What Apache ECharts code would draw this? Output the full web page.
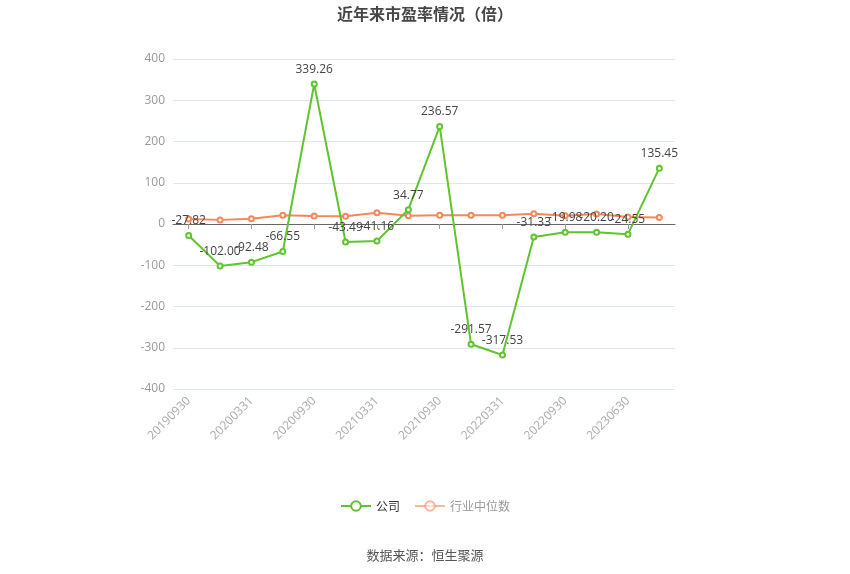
<!DOCTYPE html>
<html><head><meta charset="utf-8">
<script src="https://cdn.jsdelivr.net/npm/echarts@6/dist/echarts.min.js"></script>
<style>html,body{margin:0;padding:0;background:#fff}#c{width:850px;height:574px}</style>
</head><body><div id="c"></div>
<script>
var categories = ['20190930','20191231','20200331','20200630','20200930','20201231','20210331','20210630','20210930','20211231','20220331','20220630','20220930','20221231','20230630','20230930'];
var companyPE = [-27.82,-102.00,-92.48,-66.55,339.26,-43.49,-41.16,34.77,236.57,-291.57,-317.53,-31.33,-19.98,-20.20,-24.55,135.45];
var industryPE = [12,10,13,21,19.5,18.5,27,20,21,21,21,25,20,24,17,16];
var yTicks = {min:-400,max:400,interval:100};

var chart = echarts.init(document.getElementById('c'));
chart.setOption({
  animation:false,
  title:{text:'近年来市盈率情况（倍）',left:'center',top:1,textStyle:{fontSize:16,fontWeight:'bold',color:'#464646',fontFamily:'Noto Sans CJK SC'}},
  legend:{bottom:57,left:'center',itemWidth:30,itemHeight:12,itemGap:14,
    data:[{name:'公司',textStyle:{color:'#333'}},{name:'行业中位数',textStyle:{color:'#999'},itemStyle:{opacity:0.6},lineStyle:{opacity:0.6}}],
    textStyle:{fontSize:12,fontFamily:'Noto Sans CJK SC'}},
  graphic:[{type:'text',left:'center',top:549,style:{text:'数据来源：恒生聚源',fontSize:13,fill:'#555',fontFamily:'Noto Sans CJK SC'}}],
  grid:{left:173,right:175,top:59,bottom:185},
  xAxis:{type:'category',data:categories,boundaryGap:true,
    axisLine:{onZero:true,lineStyle:{color:'#666'}},
    axisTick:{show:true,interval:1,alignWithLabel:true,lineStyle:{color:'#999'}},
    axisLabel:{interval:1,rotate:45,color:'#aaa',fontSize:12,margin:10,fontFamily:'Open Sans'}},
  yAxis:{type:'value',min:yTicks.min,max:yTicks.max,interval:yTicks.interval,
    axisLine:{show:false},axisTick:{show:false},
    axisLabel:{color:'#999',fontSize:12,margin:8,fontFamily:'Open Sans'},
    splitLine:{lineStyle:{color:'#e0e6f1'}}},
  series:[
    {name:'公司',type:'line',data:companyPE,symbol:'emptyCircle',symbolSize:5,
      itemStyle:{color:'#5fc42e'},lineStyle:{width:2,color:'#5fc42e'},
      label:{show:true,position:'top',color:'#444',fontSize:12,fontFamily:'Open Sans',formatter:function(p){return p.value.toFixed(2);}},z:3},
    {name:'行业中位数',type:'line',data:industryPE,symbol:'emptyCircle',symbolSize:5,
      itemStyle:{color:'#f5875a'},lineStyle:{width:2,color:'#f5875a'},z:2}
  ]
});
</script></body></html>
